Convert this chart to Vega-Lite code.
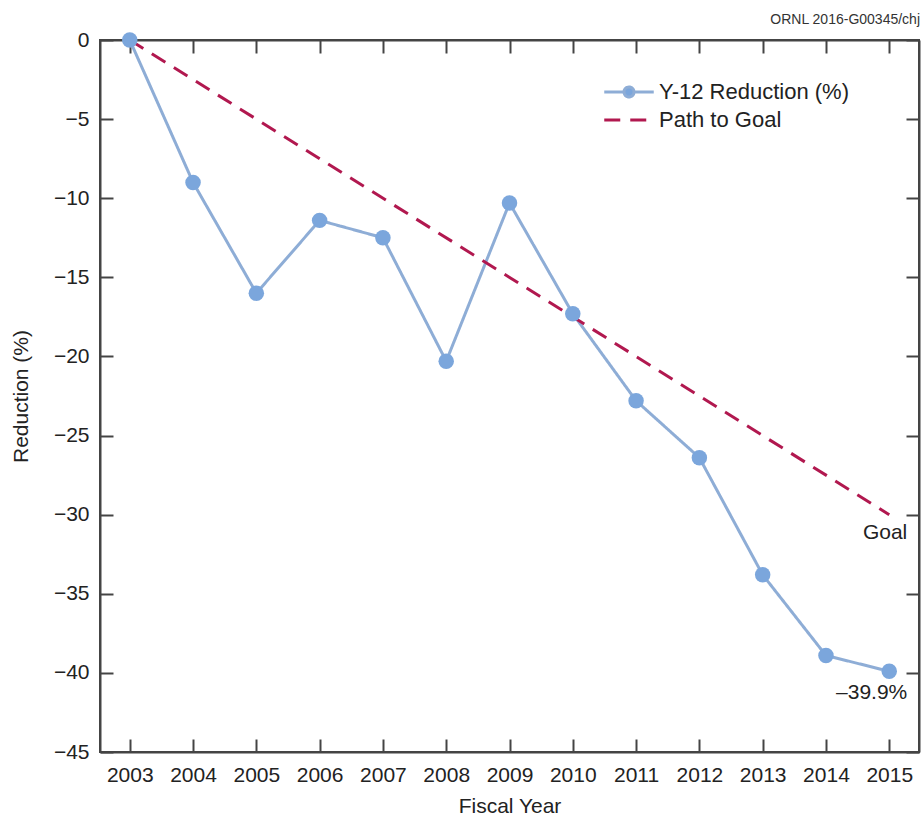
{
  "$schema": "https://vega.github.io/schema/vega-lite/v6.json",
  "autosize": "none",
  "width": 819,
  "height": 712,
  "padding": {"left": 100, "top": 40, "right": 3, "bottom": 67},
  "background": "white",
  "title": {
    "text": "ORNL 2016-G00345/chj",
    "anchor": "end",
    "fontSize": 14,
    "font": "Liberation Sans",
    "fontWeight": "normal",
    "color": "#333333",
    "offset": 2
  },
  "config": {
    "font": "Liberation Sans",
    "view": {"stroke": "#444444", "strokeWidth": 2},
    "axis": {
      "labelFont": "Liberation Sans",
      "titleFont": "Liberation Sans",
      "labelFontSize": 21,
      "titleFontSize": 21,
      "titleFontWeight": "normal",
      "labelColor": "#222222",
      "titleColor": "#222222",
      "domainColor": "#444444",
      "domainWidth": 2,
      "tickColor": "#444444",
      "tickWidth": 2,
      "grid": false
    }
  },
  "datasets": {
    "series": [
      {"year": 2003, "value": 0, "series": "Y-12 Reduction (%)"},
      {"year": 2004, "value": -9.0, "series": "Y-12 Reduction (%)"},
      {"year": 2005, "value": -16.0, "series": "Y-12 Reduction (%)"},
      {"year": 2006, "value": -11.4, "series": "Y-12 Reduction (%)"},
      {"year": 2007, "value": -12.5, "series": "Y-12 Reduction (%)"},
      {"year": 2008, "value": -20.3, "series": "Y-12 Reduction (%)"},
      {"year": 2009, "value": -10.3, "series": "Y-12 Reduction (%)"},
      {"year": 2010, "value": -17.3, "series": "Y-12 Reduction (%)"},
      {"year": 2011, "value": -22.8, "series": "Y-12 Reduction (%)"},
      {"year": 2012, "value": -26.4, "series": "Y-12 Reduction (%)"},
      {"year": 2013, "value": -33.8, "series": "Y-12 Reduction (%)"},
      {"year": 2014, "value": -38.9, "series": "Y-12 Reduction (%)"},
      {"year": 2015, "value": -39.9, "series": "Y-12 Reduction (%)"},
      {"year": 2003, "value": 0, "series": "Path to Goal"},
      {"year": 2015, "value": -30, "series": "Path to Goal"}
    ],
    "notes": [
      {"year": 2015, "value": -30, "label": "Goal", "kind": "goal"},
      {"year": 2015, "value": -39.9, "label": "–39.9%", "kind": "final"}
    ]
  },
  "resolve": {"axis": {"x": "independent", "y": "independent"}},
  "layer": [
    {
      "data": {"name": "series"},
      "mark": {"type": "line", "strokeWidth": 3, "clip": false},
      "encoding": {
        "x": {
          "field": "year",
          "type": "quantitative",
          "scale": {"domain": [2002.53, 2015.47], "nice": false, "zero": false},
          "axis": {
            "orient": "bottom",
            "title": "Fiscal Year",
            "values": [2003, 2004, 2005, 2006, 2007, 2008, 2009, 2010, 2011, 2012, 2013, 2014, 2015],
            "format": "d",
            "tickSize": -13,
            "labelPadding": 25,
            "titlePadding": 10
          }
        },
        "y": {
          "field": "value",
          "type": "quantitative",
          "scale": {"domain": [-45, 0], "nice": false},
          "axis": {
            "orient": "left",
            "title": "Reduction (%)",
            "values": [0, -5, -10, -15, -20, -25, -30, -35, -40, -45],
            "tickSize": -13,
            "labelPadding": 24,
            "titlePadding": 22
          }
        },
        "color": {
          "field": "series",
          "type": "nominal",
          "scale": {
            "domain": ["Y-12 Reduction (%)", "Path to Goal"],
            "range": ["#8eadd6", "#b1184f"]
          },
          "legend": {
            "title": null,
            "orient": "none",
            "legendX": 518,
            "legendY": 41,
            "labelFontSize": 22,
            "labelFont": "Liberation Sans",
            "labelColor": "#222222",
            "labelLimit": 400,
            "symbolSize": 225,
            "symbolStrokeWidth": 3,
            "labelOffset": 19,
            "rowPadding": 5,
            "encode": {
              "symbols": {
                "update": {
                  "shape": {"signal": "datum.value === 'Path to Goal' ? 'M-3.3,0L3.3,0' : 'M-3.3,0L-0.75,0M0.75,0L3.3,0M0.67,0A0.67,0.67,0,1,1,-0.67,0A0.67,0.67,0,1,1,0.67,0Z'"},
                  "fill": {"signal": "datum.value === 'Path to Goal' ? 'transparent' : '#7ba6dc'"},
                  "strokeDash": {"signal": "datum.value === 'Path to Goal' ? [16, 6] : [1, 0]"},
                  "opacity": {"value": 1}
                }
              }
            }
          }
        },
        "strokeDash": {
          "field": "series",
          "type": "nominal",
          "scale": {
            "domain": ["Y-12 Reduction (%)", "Path to Goal"],
            "range": [[1, 0], [16, 10]]
          },
          "legend": null
        }
      }
    },
    {
      "data": {"name": "series"},
      "transform": [{"filter": "datum.series === 'Y-12 Reduction (%)'"}],
      "mark": {"type": "point", "filled": true, "size": 240, "color": "#7ba6dc", "opacity": 1, "clip": false},
      "encoding": {
        "x": {
          "field": "year",
          "type": "quantitative",
          "axis": {"orient": "top", "title": null, "labels": false, "values": [2003, 2004, 2005, 2006, 2007, 2008, 2009, 2010, 2011, 2012, 2013, 2014, 2015], "tickSize": -13}
        },
        "y": {
          "field": "value",
          "type": "quantitative",
          "axis": {"orient": "right", "title": null, "labels": false, "values": [0, -5, -10, -15, -20, -25, -30, -35, -40, -45], "tickSize": -13}
        }
      }
    },
    {
      "data": {"name": "notes"},
      "transform": [{"filter": "datum.kind === 'goal'"}],
      "mark": {"type": "text", "align": "right", "baseline": "middle", "fontSize": 21, "font": "Liberation Sans", "color": "#222222", "dx": 18, "dy": 18},
      "encoding": {
        "x": {"field": "year", "type": "quantitative", "axis": null},
        "y": {"field": "value", "type": "quantitative", "axis": null},
        "text": {"field": "label"}
      }
    },
    {
      "data": {"name": "notes"},
      "transform": [{"filter": "datum.kind === 'final'"}],
      "mark": {"type": "text", "align": "right", "baseline": "middle", "fontSize": 21, "font": "Liberation Sans", "color": "#222222", "dx": 18, "dy": 22},
      "encoding": {
        "x": {"field": "year", "type": "quantitative", "axis": null},
        "y": {"field": "value", "type": "quantitative", "axis": null},
        "text": {"field": "label"}
      }
    }
  ]
}
